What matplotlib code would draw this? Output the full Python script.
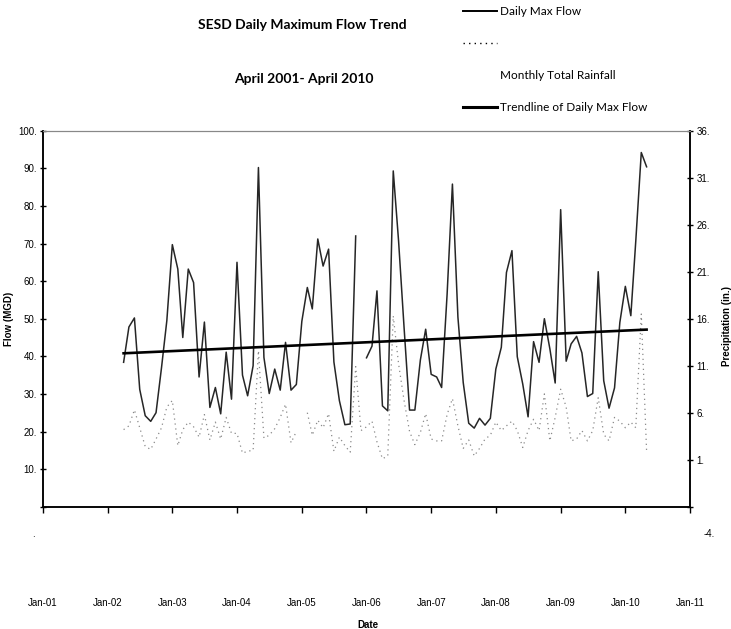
import datetime as dt

import matplotlib
matplotlib.use("Agg")
import matplotlib.pyplot as plt
import matplotlib.dates as mdates
from matplotlib.lines import Line2D
import numpy as np
import pandas as pd

# monthly values, April 2002 .. May 2010
START_MONTH = "2002-04-01"

flow_mgd = [
    38.4, 47.8, 50.2, 31.2, 24.2, 22.7, 25.0, 37.0, 49.5, 69.7,
    63.2, 45.0, 63.2, 59.6, 34.5, 49.1, 26.4, 31.7, 24.7, 41.1,
    28.6, 65.0, 35.0, 29.5, 37.5, 90.2, 39.7, 30.1, 36.6, 31.0,
    43.7, 31.0, 32.5, 49.3, 58.3, 52.6, 71.2, 64.0, 68.5, 38.5,
    28.2, 21.8, 22.0, 72.0, np.nan, 39.6, 42.7, 57.4, 26.8, 25.5,
    89.3, 70.7, 47.7, 25.7, 25.7, 39.0, 47.2, 35.2, 34.5, 31.7,
    56.5, 85.8, 50.4, 33.0, 22.2, 20.9, 23.5, 21.7, 23.5, 36.6,
    42.4, 62.3, 68.1, 39.9, 32.6, 23.9, 43.9, 38.4, 50.0, 42.0,
    32.9, 79.0, 38.7, 43.3, 45.3, 40.9, 29.3, 30.1, 62.5, 33.5,
    26.2, 31.6, 49.0, 58.6, 50.8, 70.7, 94.2, 90.4,
]

rain_in = [
    4.2, 4.6, 6.3, 4.4, 2.4, 2.1, 3.2, 4.4, 6.6, 7.3,
    2.5, 4.2, 5.0, 4.5, 3.4, 5.8, 3.1, 5.0, 3.2, 5.5,
    3.8, 3.8, 1.7, 1.9, 2.0, 12.6, 3.3, 3.6, 4.3, 5.5,
    6.9, 2.8, 4.0, np.nan, 6.0, 3.6, 5.2, 4.4, 5.9, 1.9,
    3.4, 2.5, 1.8, 10.9, 4.1, 4.5, 5.1, 2.9, 1.1, 1.4,
    16.3, 11.2, 7.3, 4.0, 2.6, 3.9, 5.9, 3.2, 3.0, 3.0,
    5.8, 7.5, 4.6, 2.2, 3.1, 1.4, 2.2, 3.2, 3.6, 5.0,
    4.1, 4.6, 5.1, 4.1, 2.3, 4.1, 5.3, 4.1, 8.0, 3.0,
    5.5, 8.5, 6.6, 3.0, 3.2, 4.1, 3.0, 4.1, 7.6, 3.7,
    3.0, 5.5, 5.1, 4.4, 5.0, 4.4, 16.5, 1.9,
]

# trendline value at first and last month
trend_flow = [40.8, 47.1]

flow_ticks = list(range(10, 101, 10))
rain_ticks = list(range(1, 37, 5))

dates = pd.date_range(START_MONTH, periods=len(flow_mgd), freq="MS")

plt.rcParams["font.family"] = ["Liberation Sans", "DejaVu Sans"]

fig = plt.figure(figsize=(7.31, 6.29), dpi=100)
ax = fig.add_axes([43 / 731, 1 - 506.7 / 629, 647 / 731, 376 / 629])
ax2 = ax.twinx()

# rainfall (right axis) drawn under the flow line
ax2.plot(dates, rain_in, color="#8a8a8a", lw=0.9, linestyle=(0, (1, 3)))
ax.set_zorder(ax2.get_zorder() + 1)
ax.patch.set_visible(False)

ax.plot(dates, flow_mgd, color="#262626", lw=1.1)
ax.plot([dates[0], dates[-1]], trend_flow, color="black", lw=1.9)

ax.set_xlim(dt.datetime(2001, 1, 1), dt.datetime(2011, 1, 1))
ax.set_ylim(0, 100)
ax2.set_ylim(-4, 36)

ax.xaxis.set_major_locator(mdates.YearLocator())
ax.xaxis.set_major_formatter(mdates.DateFormatter("%b-%y"))

ax.set_yticks([0] + flow_ticks)
ax.set_yticklabels([""] + [f"{v}." for v in flow_ticks])
ax2.set_yticks([-4] + rain_ticks)
ax2.set_yticklabels([""] + [f"{v}." for v in rain_ticks])

ax.tick_params(axis="x", direction="out", length=4, width=1, labelsize=7, pad=62)
ax.tick_params(axis="y", direction="inout", length=5, width=1, labelsize=7, pad=2)
ax2.tick_params(axis="y", direction="inout", length=5, width=1, labelsize=7, pad=2)

# the zero labels sit below the axis in the original
ax.annotate(".", xy=(0, 0), xycoords="axes fraction", xytext=(-6, -20),
            textcoords="offset points", fontsize=7, ha="right", va="center")
ax.annotate("-4.", xy=(1, 0), xycoords="axes fraction", xytext=(10, -20),
            textcoords="offset points", fontsize=7, ha="left", va="center")

for a in (ax, ax2):
    for side in ("left", "right", "bottom"):
        a.spines[side].set_color("black")
        a.spines[side].set_linewidth(1.1)
    a.spines["top"].set_color("#888888")
    a.spines["top"].set_linewidth(0.8)

ax.set_ylabel("Flow (MGD)", fontsize=7, fontweight="bold")
ax.yaxis.set_label_coords(-0.045, 0.5)
ax2.set_ylabel("Precipitation (in.)", fontsize=7, fontweight="bold")
ax2.yaxis.set_label_coords(1.05, 0.48)
ax.set_xlabel("Date", fontsize=7, fontweight="bold")
ax.xaxis.set_label_coords(0.502, -0.30)

fig.text(302 / 731, 1 - 25 / 629, "SESD Daily Maximum Flow Trend", family="Lato",
         fontsize=10, fontweight="bold", ha="center", va="center")
fig.text(304 / 731, 1 - 79 / 629, "April 2001- April 2010", family="Lato",
         fontsize=10, fontweight="bold", ha="center", va="center")

handles = [
    Line2D([], [], color="black", lw=1.4),
    Line2D([], [], color="black", lw=1.0, linestyle=(0, (1, 3))),
    Line2D([], [], color="none"),
    Line2D([], [], color="black", lw=2.2),
]
labels = ["Daily Max Flow", "", "Monthly Total Rainfall", "Trendline of Daily Max Flow"]
fig.legend(handles, labels, loc="upper left", bbox_to_anchor=(463 / 731, 1 - 6 / 629),
           frameon=False, borderpad=0, borderaxespad=0, handlelength=2.9,
           handletextpad=0.25, labelspacing=1.78, prop={"family": "Lato", "size": 8.5})

fig.savefig("out.png", dpi=100)
